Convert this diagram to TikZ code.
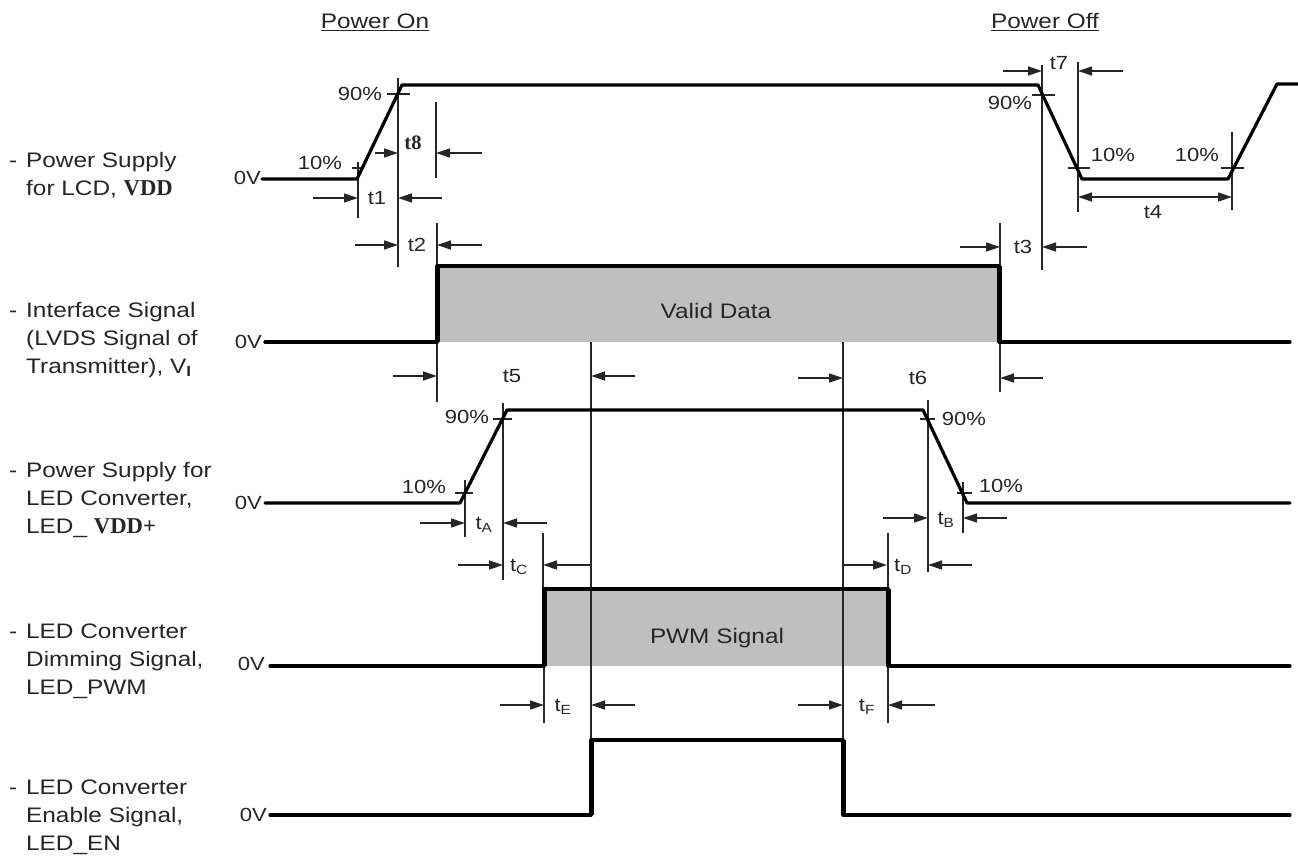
\documentclass[tikz,border=0pt]{standalone}
\usepackage{fontspec}
\setmainfont{Liberation Sans}[FakeStretch=1.16]
\newfontfamily\serifrm{Liberation Serif}[Scale=1.08]
\usetikzlibrary{arrows.meta}
\newcommand{\bsf}[1]{{\serifrm\bfseries #1}}
\begin{document}
\begin{tikzpicture}[x=1pt,y=-1pt,
  sig/.style={line width=3.2pt, line join=round, line cap=round, draw=black},
  sigedge/.style={line width=5pt, draw=black},
  thin/.style={line width=1.3pt, draw=black!85},
  arr/.style={thin, -{Triangle[length=14pt,width=9pt]}},
  dbl/.style={thin, {Triangle[length=14pt,width=9pt]}-{Triangle[length=14pt,width=9pt]}},
  gfill/.style={fill=black!25},
  lab/.style={font=\fontsize{19}{22}\selectfont, inner sep=0pt, text=black!85},
  big/.style={font=\fontsize{21}{28}\selectfont, inner sep=0pt, text=black!85},
  blk/.style={big, align=left, anchor=north west}]
\useasboundingbox[fill=white] (0,0) rectangle (1298,859);

% ---------- left labels ----------
\node[blk] (L1) at (26,152) {\llap{-\hspace{9pt}}Power Supply\\for LCD, \bsf{VDD}};
\node[blk] (L2) at (26,302) {\llap{-\hspace{9pt}}Interface Signal\\(LVDS Signal of\\Transmitter), V\textsubscript{\textbf{I}}};
\node[blk] (L3) at (26,462) {\llap{-\hspace{9pt}}Power Supply for\\LED Converter,\\LED\_ \bsf{VDD+}};
\node[blk] (L4) at (26,624) {\llap{-\hspace{9pt}}LED Converter\\Dimming Signal,\\LED\_PWM};
\node[blk] (L5) at (26,780) {\llap{-\hspace{9pt}}LED Converter\\Enable Signal,\\LED\_EN};

\node[big] (pon) at (375,22) {\underline{Power On}};
\node[big] (poff) at (1045,22) {\underline{Power Off}};

% ---------- 0V labels ----------
\node[lab, anchor=east] (z1) at (261,178) {0V};
\node[lab, anchor=east] (z2) at (262,342) {0V};
\node[lab, anchor=east] (z3) at (262,503) {0V};
\node[lab, anchor=east] (z4) at (265,664) {0V};
\node[lab, anchor=east] (z5) at (267,815) {0V};

% ---------- gray fills ----------
\fill[gfill] (437,266) rectangle (999,342);
\fill[gfill] (544,589) rectangle (888,666);

% ---------- VDD ----------
\draw[thin] (352,168) -- (364,168);
\draw[thin] (358,162) -- (358,218);
\draw[thin] (387,94) -- (410,94);
\draw[thin] (398,78) -- (398,267);
\draw[thin] (436,102) -- (436,178);
\draw[thin] (437,223) -- (437,266);
\draw[thin] (1042,65) -- (1042,270);
\draw[thin] (1032,95) -- (1055,95);
\draw[thin] (1078,62) -- (1078,212);
\draw[thin] (1068,168) -- (1090,168);
\draw[thin] (1232,132) -- (1232,210);
\draw[thin] (1221,168) -- (1244,168);
\draw[thin] (1000,223) -- (1000,266);
\draw[sig] (262,179) -- (357,179) -- (402,85) -- (1038,85) -- (1082,179) -- (1228,179) -- (1277,84) -- (1298,84);

\draw[arr] (375,153) -- (398,153);
\draw[arr] (482,153) -- (436,153);
\draw[arr] (313,198) -- (358,198);
\draw[arr] (442,198) -- (398,198);
\draw[arr] (355,245) -- (398,245);
\draw[arr] (482,245) -- (437,245);
\draw[arr] (1003,71) -- (1042,71);
\draw[arr] (1123,71) -- (1078,71);
\draw[dbl] (1078,197) -- (1232,197);
\draw[arr] (960,247) -- (1000,247);
\draw[arr] (1087,247) -- (1042,247);

\node[lab] (p90a) at (360,94) {90\%};
\node[lab] (p10a) at (320,163) {10\%};
\node[inner sep=0pt, font=\fontsize{19}{22}\selectfont\serifrm\bfseries, text=black!85] (t8) at (413,143) {t8};
\node[lab] (t1) at (377,198) {t1};
\node[lab] (t2) at (417,245) {t2};
\node[lab] (t7) at (1059,63) {t7};
\node[lab] (p90b) at (1010,103) {90\%};
\node[lab] (p10b) at (1113,155) {10\%};
\node[lab] (p10c) at (1197,155) {10\%};
\node[lab] (t4) at (1153,212) {t4};
\node[lab] (t3) at (1023,247) {t3};

% ---------- Interface ----------
\draw[thin] (591,342) -- (591,740);
\draw[thin] (843,342) -- (843,740);
\draw[thin] (437,342) -- (437,402);
\draw[thin] (1000,342) -- (1000,392);
\draw[sig] (265,342) -- (437,342) -- (437,266) -- (999,266) -- (999,342) -- (1290,342);
\draw[sigedge] (437,342) -- (437,266);
\draw[sigedge] (999,266) -- (999,342);
\node[big] (vd) at (716,311) {Valid Data};
\draw[arr] (393,376) -- (437,376);
\draw[arr] (635,376) -- (591,376);
\draw[arr] (798,378) -- (843,378);
\draw[arr] (1043,378) -- (1000,378);
\node[lab] (t5) at (512,376) {t5};
\node[lab] (t6) at (918,378) {t6};

% ---------- LED VDD ----------
\draw[thin] (455,493) -- (473,493);
\draw[thin] (465,480) -- (465,537);
\draw[thin] (493,419) -- (512,419);
\draw[thin] (503,403) -- (503,580);
\draw[thin] (920,419) -- (935,419);
\draw[thin] (928,400) -- (928,572);
\draw[thin] (957,493) -- (972,493);
\draw[thin] (963,482) -- (963,533);
\draw[thin] (543,533) -- (543,589);
\draw[thin] (888,533) -- (888,589);
\draw[sig] (265,503) -- (460,503) -- (507,410) -- (923,410) -- (967,503) -- (1290,503);
\node[lab] (p90c) at (467,417) {90\%};
\node[lab] (p10d) at (424,487) {10\%};
\node[lab] (p90d) at (964,419) {90\%};
\node[lab] (p10e) at (1001,486) {10\%};
\draw[arr] (420,523) -- (465,523);
\draw[arr] (547,523) -- (503,523);
\draw[arr] (458,565) -- (503,565);
\draw[arr] (592,565) -- (543,565);
\draw[arr] (883,518) -- (928,518);
\draw[arr] (1007,518) -- (963,518);
\draw[arr] (843,565) -- (887,565);
\draw[arr] (972,565) -- (928,565);
\node[lab] (tA) at (484,525) {t\textsubscript{A}};
\node[lab] (tC) at (519,567) {t\textsubscript{C}};
\node[lab] (tB) at (946,520) {t\textsubscript{B}};
\node[lab] (tD) at (903,567) {t\textsubscript{D}};

% ---------- PWM ----------
\draw[thin] (544,666) -- (544,723);
\draw[thin] (888,666) -- (888,723);
\draw[sig] (270,666) -- (544,666) -- (544,589) -- (888,589) -- (888,666) -- (1290,666);
\draw[sigedge] (544,666) -- (544,589);
\draw[sigedge] (888,589) -- (888,666);
\node[big] (pwm) at (717,638) {PWM Signal};
\draw[arr] (500,705) -- (544,705);
\draw[arr] (635,705) -- (591,705);
\draw[arr] (798,705) -- (843,705);
\draw[arr] (935,705) -- (888,705);
\node[lab] (tE) at (563,707) {t\textsubscript{E}};
\node[lab] (tF) at (867,707) {t\textsubscript{F}};

% ---------- LED EN ----------
\draw[sig] (270,815) -- (591,815) -- (591,740) -- (843,740) -- (843,815) -- (1290,815);
\draw[sigedge] (591,815) -- (591,740);
\draw[sigedge] (843,740) -- (843,815);
\end{tikzpicture}
\end{document}
